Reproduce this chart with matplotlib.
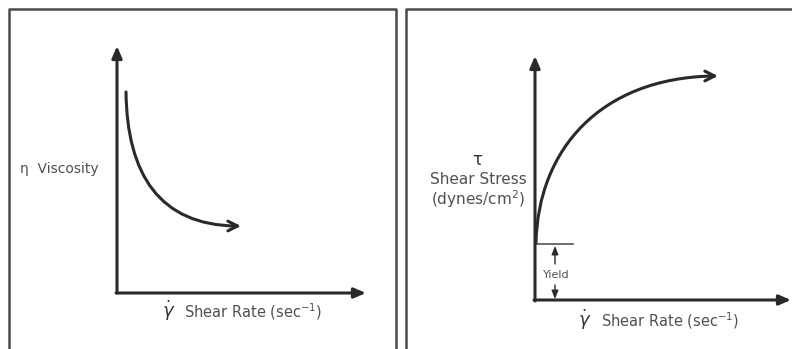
import matplotlib.pyplot as plt
from matplotlib.path import Path
from matplotlib.patches import PathPatch

# Curve control points (pixel coordinates of the schematic)
left_curve_x = [126, 127, 160, 236]
left_curve_y = [92, 175, 225, 226]
right_curve_x = [536, 538, 600, 713]
right_curve_y = [243, 150, 78, 76]

left_label_y = "η  Viscosity"
right_label_tau = "τ"
right_label_y = "Shear Stress\n(dynes/cm$^2$)"
x_label = "Shear Rate (sec$^{-1}$)"
yield_label = "Yield"

W, H = 792, 349
fig = plt.figure(figsize=(W / 100, H / 100), dpi=100)
ax = fig.add_axes([0, 0, 1, 1])
ax.set_xlim(0, W)
ax.set_ylim(H, 0)
ax.axis("off")

ink = "#2a2a2a"
frame = "#4a4a4a"
txt = "#505050"

# Panel frames
ax.plot([9, 9, 396, 396], [352, 9, 9, 352], color=frame, lw=1.8, solid_capstyle="butt")
ax.plot([406, 406, 795], [352, 9, 9], color=frame, lw=1.8, solid_capstyle="butt")

axis_arrow = dict(arrowstyle="-|>,head_length=0.7,head_width=0.3", color=ink, lw=2.2,
                  shrinkA=0, shrinkB=0)
curve_arrow = dict(arrowstyle="->,head_length=0.7,head_width=0.35", color=ink, lw=2.2,
                   shrinkA=0, shrinkB=0)
codes = [Path.MOVETO, Path.CURVE4, Path.CURVE4, Path.CURVE4]

# Left panel axes
ax.annotate("", xy=(117, 46), xytext=(117, 293), arrowprops=axis_arrow)
ax.annotate("", xy=(366, 293), xytext=(116, 293), arrowprops=axis_arrow)
# Left curve
ax.add_patch(PathPatch(Path(list(zip(left_curve_x, left_curve_y)), codes),
                       fill=False, edgecolor=ink, lw=2.2, capstyle="round"))
ax.annotate("", xy=(241, 226), xytext=(left_curve_x[-1] - 4, left_curve_y[-1]),
            arrowprops=curve_arrow)

ax.text(20, 169, left_label_y, fontsize=10, color=txt, va="center", ha="left")
ax.text(169, 311, "$\\dot{\\gamma}$", fontsize=13, color="#333", va="center", ha="center")
ax.text(184, 312, x_label, fontsize=10.5, color=txt, va="center", ha="left")

# Right panel axes
ax.annotate("", xy=(535, 56), xytext=(535, 301), arrowprops=axis_arrow)
ax.annotate("", xy=(791, 300), xytext=(534, 300), arrowprops=axis_arrow)
ax.add_patch(PathPatch(Path(list(zip(right_curve_x, right_curve_y)), codes),
                       fill=False, edgecolor=ink, lw=2.2, capstyle="round"))
ax.annotate("", xy=(718, 76), xytext=(right_curve_x[-1] - 4, right_curve_y[-1]),
            arrowprops=curve_arrow)

# Yield marker
ax.plot([535, 573], [244, 244], color="#555", lw=1.2)
small_arrow = dict(arrowstyle="-|>,head_length=0.5,head_width=0.2", color=ink, lw=1.0,
                   shrinkA=0, shrinkB=0)
ax.annotate("", xy=(555, 246), xytext=(555, 264), arrowprops=small_arrow)
ax.annotate("", xy=(555, 299), xytext=(555, 285), arrowprops=small_arrow)
ax.text(556, 275, yield_label, fontsize=8, color=txt, va="center", ha="center")

ax.text(477, 160, right_label_tau, fontsize=12, color="#333", va="center", ha="center")
ax.text(478, 191, right_label_y, fontsize=11, color=txt, va="center", ha="center",
        linespacing=1.05)
ax.text(585, 320, "$\\dot{\\gamma}$", fontsize=13, color="#333", va="center", ha="center")
ax.text(601, 321, x_label, fontsize=10.5, color=txt, va="center", ha="left")

fig.savefig("out.png", dpi=100)
